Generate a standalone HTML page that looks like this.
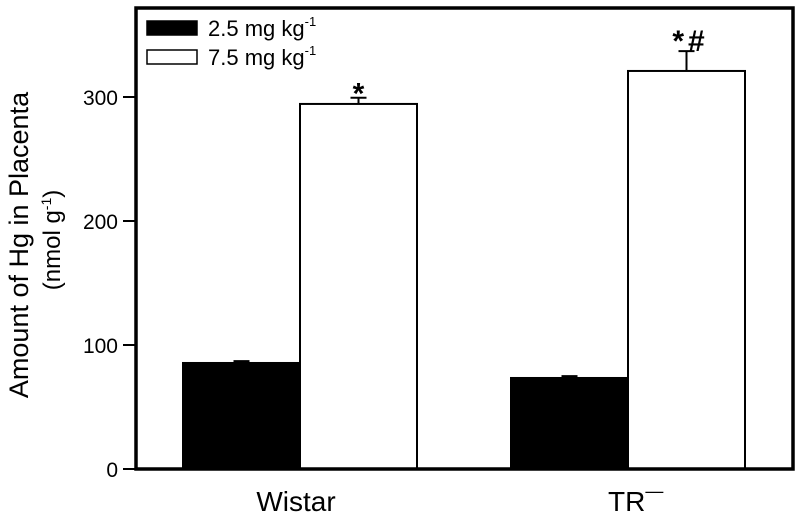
<!DOCTYPE html>
<html><head><meta charset="utf-8"><style>
body{margin:0;background:#fff;}
svg text{font-family:"Liberation Sans",sans-serif;fill:#000;}
</style></head><body>
<svg id="chart" width="800" height="519" viewBox="0 0 800 519" xmlns="http://www.w3.org/2000/svg">
<g id="marks"></g>
<rect x="136" y="8" width="657" height="461" fill="none" stroke="#000" stroke-width="3.5"/>
<g id="yticks"></g>
<text transform="translate(28,245) rotate(-90)" text-anchor="middle" font-size="27">Amount of Hg in Placenta</text>
<text transform="translate(60,240) rotate(-90)" text-anchor="middle" font-size="24">(nmol g<tspan dy="-9" font-size="14">-1</tspan><tspan dy="9">)</tspan></text>
<g>
<rect x="147" y="21" width="50" height="14" fill="#000" stroke="#000" stroke-width="1.5"/>
<text x="208" y="36" font-size="22">2.5 mg kg<tspan dy="-10" font-size="13">-1</tspan></text>
<rect x="147" y="50" width="50" height="14" fill="#fff" stroke="#000" stroke-width="1.5"/>
<text x="208" y="65" font-size="22">7.5 mg kg<tspan dy="-10" font-size="13">-1</tspan></text>
</g>
<text x="296" y="511" text-anchor="middle" font-size="28">Wistar</text>
<text x="608" y="511" font-size="28">TR<tspan dy="-14" font-size="18">—</tspan></text>
</svg>
<script>
const categories = ["Wistar", "TR-"];
const lowDose = [85.5, 73.4];
const lowErr = [1.5, 1.5];
const highDose = [294.4, 321];
const highErr = [5, 16];
const sigLabels = ["*", "*#"];
const yTicks = [0, 100, 200, 300];

const NS = "http://www.w3.org/2000/svg";
const y0 = 469, pxPerUnit = 1.24;
const y = v => y0 - v * pxPerUnit;
const groupCenter = i => 300 + i * 328;
const barW = 117;
const marks = document.getElementById('marks');
function mk(tag, attrs){const e=document.createElementNS(NS,tag);for(const k in attrs)e.setAttribute(k,attrs[k]);return e;}

categories.forEach((c, i) => {
  const cx = groupCenter(i);
  const b1 = mk('rect',{x:cx-barW,y:y(lowDose[i]),width:barW,height:y0-y(lowDose[i]),fill:'#000',stroke:'#000','stroke-width':2});
  
  
  marks.appendChild(b1);
  const e1 = mk('path',{d:`M${cx-barW/2},${y(lowDose[i])} V${y(lowDose[i]+lowErr[i])} M${cx-barW/2-8},${y(lowDose[i]+lowErr[i])} H${cx-barW/2+8}`,stroke:'#000','stroke-width':2,fill:'none'});
  
  
  marks.appendChild(e1);
  const b2 = mk('rect',{x:cx,y:y(highDose[i]),width:barW,height:y0-y(highDose[i]),fill:'#fff',stroke:'#000','stroke-width':2});
  
  
  marks.appendChild(b2);
  const ex = cx + barW/2, yt = y(highDose[i]+highErr[i]);
  const e2 = mk('path',{d:`M${ex},${y(highDose[i])} V${yt} M${ex-8},${yt} H${ex+8}`,stroke:'#000','stroke-width':2,fill:'none'});
  
  
  marks.appendChild(e2);
  const s = mk('text',{x:ex + (i===0?0:4),y:yt + (i===0?6:0),'text-anchor':'middle','font-size':30,'font-weight':'bold'});
  s.textContent = sigLabels[i];
  if (i===1) s.setAttribute('letter-spacing','4');
  
  
  marks.appendChild(s);
});

const yt = document.getElementById('yticks');
yTicks.forEach(t => {
  const l = mk('line',{x1:123,x2:136,y1:y(t),y2:y(t),stroke:'#000','stroke-width':2});
  
  
  yt.appendChild(l);
  const tx = mk('text',{x:118,y:y(t)+8,'text-anchor':'end','font-size':21});
  tx.textContent = t;
  
  
  yt.appendChild(tx);
});
</script>
</body></html>
